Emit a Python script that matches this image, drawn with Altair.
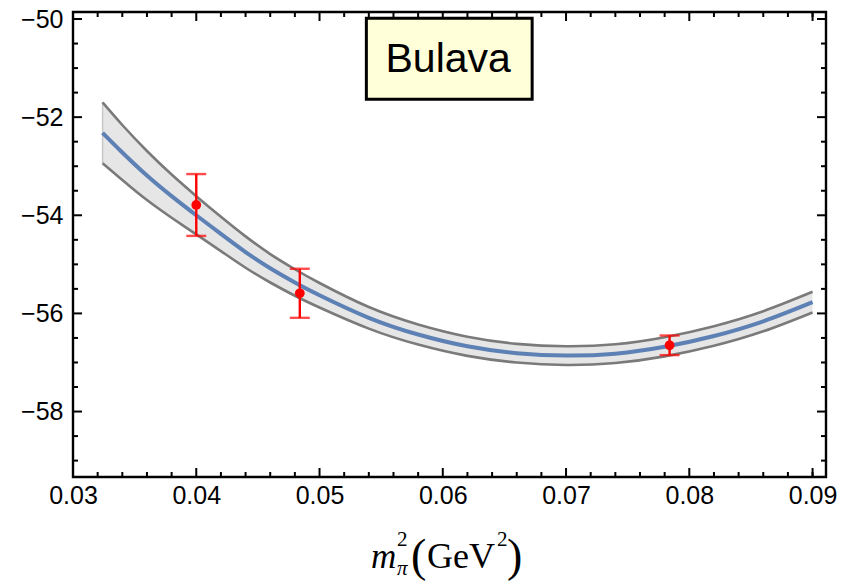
import altair as alt
import pandas as pd

# ---- data ----
curve_x = [0.0324, 0.034, 0.036, 0.038, 0.040, 0.042, 0.044, 0.046, 0.048, 0.050,
           0.054, 0.058, 0.062, 0.066, 0.070, 0.074, 0.078, 0.082, 0.086, 0.090]
curve_mid = [-52.32, -52.72, -53.19, -53.61, -54.00, -54.38, -54.75, -55.08, -55.37, -55.63,
             -56.09, -56.43, -56.67, -56.81, -56.86, -56.82, -56.68, -56.46, -56.16, -55.77]
curve_half = [0.62, 0.56, 0.50, 0.44, 0.39, 0.35, 0.32, 0.29, 0.27, 0.25,
              0.22, 0.205, 0.195, 0.19, 0.19, 0.19, 0.195, 0.20, 0.205, 0.21]

pt_x = [0.0400, 0.0484, 0.0784]
pt_y = [-53.79, -55.59, -56.65]
pt_err = [0.63, 0.50, 0.20]

x_major = [0.03, 0.04, 0.05, 0.06, 0.07, 0.08, 0.09]
x_minor = [0.032, 0.034, 0.036, 0.038, 0.042, 0.044, 0.046, 0.048,
           0.052, 0.054, 0.056, 0.058, 0.062, 0.064, 0.066, 0.068,
           0.072, 0.074, 0.076, 0.078, 0.082, 0.084, 0.086, 0.088, 0.090]
y_major = [-58, -56, -54, -52, -50]
y_minor = [-59, -58.5, -57.5, -57, -56.5, -55.5, -55, -54.5, -53.5, -53,
           -52.5, -51.5, -51, -50.5]

label_text = ["Bulava"]
label_box_x = [0.05380, 0.06725]
label_box_y = [-49.985, -51.635]
label_pos = [0.06044, -51.07]

x_domain = [0.03, 0.09109]
y_domain = [-59.334, -49.857]

W, H = 753, 465

curve = pd.DataFrame({"x": curve_x, "mid": curve_mid, "half": curve_half})
curve["lo"] = curve["mid"] - curve["half"]
curve["hi"] = curve["mid"] + curve["half"]

pts = pd.DataFrame({"x": pt_x, "y": pt_y, "e": pt_err})
pts["lo"] = pts["y"] - pts["e"]
pts["hi"] = pts["y"] + pts["e"]

xs = alt.Scale(domain=x_domain, nice=False, zero=False)
ys = alt.Scale(domain=y_domain, nice=False, zero=False)

X = alt.X("x:Q", scale=xs,
          axis=alt.Axis(values=x_major, format=".2f", title=None, ticks=False,
                        domain=False, grid=False, labelFontSize=25,
                        labelFont="Liberation Sans", labelColor="black",
                        labelPadding=6, labelFlush=False, labelOverlap=False))
Yax = alt.Axis(values=y_major, format="d", title=None, ticks=False,
               domain=False, grid=False, labelFontSize=25,
               labelFont="Liberation Sans", labelColor="black",
               labelPadding=10, labelFlush=False, labelOverlap=False)

base = alt.Chart(curve)
band = base.mark_area(color="#E6E6E6", interpolate="natural").encode(
    x=X, y=alt.Y("lo:Q", scale=ys, axis=Yax), y2="hi:Q")
edge = alt.Chart(curve.iloc[[0]]).mark_rule(color="#C8C8C8", strokeWidth=1.5).encode(
    x=alt.X("x:Q", scale=xs), y=alt.Y("lo:Q", scale=ys), y2="hi:Q")
up = base.mark_line(color="#7A7A7A", strokeWidth=2.6, interpolate="natural").encode(
    x=alt.X("x:Q", scale=xs), y=alt.Y("hi:Q", scale=ys))
dn = base.mark_line(color="#7A7A7A", strokeWidth=2.6, interpolate="natural").encode(
    x=alt.X("x:Q", scale=xs), y=alt.Y("lo:Q", scale=ys))
mid = base.mark_line(color="#5E81B5", strokeWidth=4, interpolate="natural").encode(
    x=alt.X("x:Q", scale=xs), y=alt.Y("mid:Q", scale=ys))

pbase = alt.Chart(pts)
ebar = pbase.mark_rule(color="#FF0000", strokeWidth=2.4).encode(
    x=alt.X("x:Q", scale=xs), y=alt.Y("lo:Q", scale=ys), y2="hi:Q")
cap_hi = pbase.mark_tick(color="#FF0000", orient="horizontal", size=20, thickness=2.4).encode(
    x=alt.X("x:Q", scale=xs), y=alt.Y("hi:Q", scale=ys))
cap_lo = pbase.mark_tick(color="#FF0000", orient="horizontal", size=20, thickness=2.4).encode(
    x=alt.X("x:Q", scale=xs), y=alt.Y("lo:Q", scale=ys))
dots = pbase.mark_circle(color="#FF0000", size=95, opacity=1).encode(
    x=alt.X("x:Q", scale=xs), y=alt.Y("y:Q", scale=ys))

# frame ticks (inward)
def xticks(vals, length):
    d = alt.Chart(pd.DataFrame({"t": vals}))
    bot = d.mark_rule(color="black", strokeWidth=2).encode(
        x=alt.X("t:Q", scale=xs), y=alt.value(H), y2=alt.value(H - length))
    top = d.mark_rule(color="black", strokeWidth=2).encode(
        x=alt.X("t:Q", scale=xs), y=alt.value(0), y2=alt.value(length))
    return [bot, top]

def yticks(vals, length):
    d = alt.Chart(pd.DataFrame({"t": vals}))
    lft = d.mark_rule(color="black", strokeWidth=2).encode(
        y=alt.Y("t:Q", scale=ys), x=alt.value(0), x2=alt.value(length))
    rgt = d.mark_rule(color="black", strokeWidth=2).encode(
        y=alt.Y("t:Q", scale=ys), x=alt.value(W), x2=alt.value(W - length))
    return [lft, rgt]

tick_layers = xticks(x_major, 9) + xticks(x_minor, 5) + yticks(y_major, 9) + yticks(y_minor, 5)

box_df = pd.DataFrame({"x1": [label_box_x[0]], "x2": [label_box_x[1]],
                       "y1": [label_box_y[0]], "y2": [label_box_y[1]],
                       "tx": [label_pos[0]], "ty": [label_pos[1]],
                       "label": label_text})
box = alt.Chart(box_df).mark_rect(fill="#FFFFD9", stroke="black", strokeWidth=3).encode(
    x=alt.X("x1:Q", scale=xs), x2="x2:Q", y=alt.Y("y1:Q", scale=ys), y2="y2:Q")
boxtext = alt.Chart(box_df).mark_text(font="Liberation Sans", fontSize=41, color="black",
                                      align="center", baseline="alphabetic").encode(
    x=alt.X("tx:Q", scale=xs), y=alt.Y("ty:Q", scale=ys), text="label:N")

# x-axis title m_pi^2 (GeV^2), composed of text pieces
one = pd.DataFrame({"a": [0]})
def piece(txt, x, y, size, italic=False):
    return alt.Chart(one).mark_text(text=txt, font="Liberation Serif", fontSize=size,
                                    fontStyle="italic" if italic else "normal",
                                    color="black", align="left",
                                    baseline="alphabetic").encode(
        x=alt.value(x), y=alt.value(y))

title_layers = [
    piece("m", 298, 556, 35, True),
    piece("2", 324, 534, 21),
    piece("π", 324, 563, 21, True),
    piece("(", 338, 559, 46),
    piece("GeV", 354, 556, 36),
    piece("2", 424, 534, 21),
    piece(")", 434, 559, 46),
]

chart = alt.layer(
    band, edge, up, dn, mid, ebar, cap_hi, cap_lo, dots, *tick_layers, box, boxtext, *title_layers
).properties(
    width=W, height=H,
    padding={"left": 73, "top": 12, "right": 17, "bottom": 106},
    autosize=alt.AutoSizeParams(type="none"),
    background="white",
).configure_view(stroke="black", strokeWidth=2.4)

chart.save("out.html", embed_options={"renderer": "svg", "actions": False})
